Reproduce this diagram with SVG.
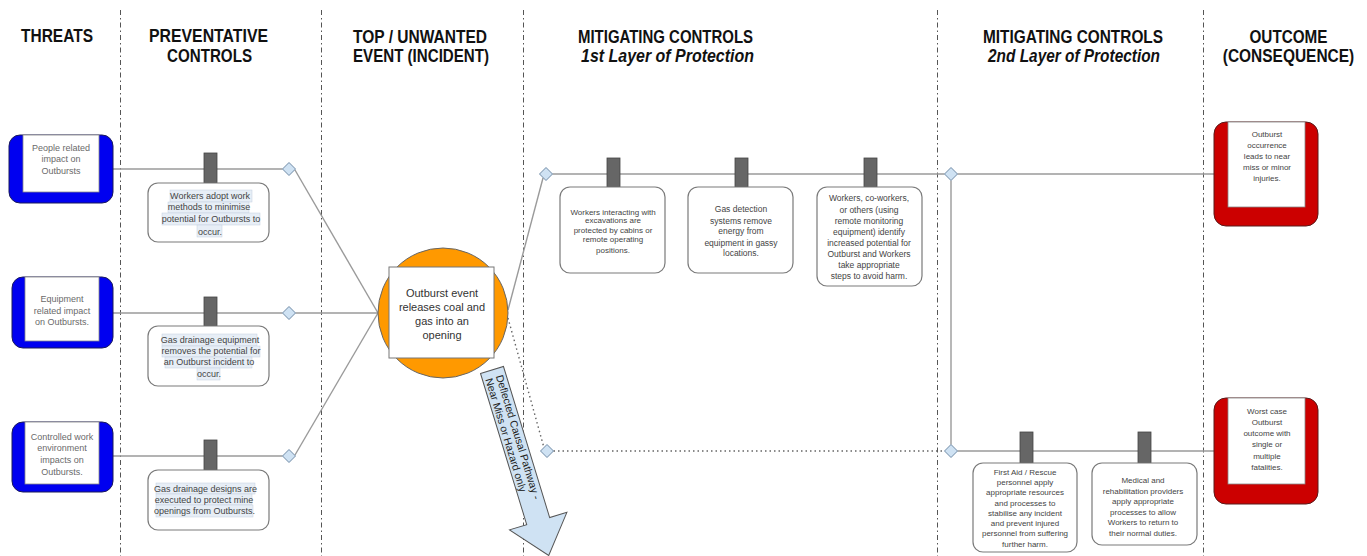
<svg xmlns="http://www.w3.org/2000/svg" width="1367" height="556" viewBox="0 0 1367 556">
<style>
.hd{font-family:"Liberation Sans",Arial,sans-serif;font-weight:bold;font-size:18px;fill:#111;text-anchor:middle}
.hi{font-style:italic}
.sep{stroke:#555;stroke-width:1;stroke-dasharray:5 3 1.5 3;fill:none}
.con{stroke:#9a9a9a;stroke-width:1.4;fill:none}
.dot{stroke:#666;stroke-width:1.4;stroke-dasharray:1.5 3;fill:none}
.dia{fill:#cfe2f3;stroke:#6f8aa6;stroke-width:1}
.blk{fill:#666;stroke:#444;stroke-width:0.8}
.box{fill:#fff;stroke:#7a7a7a;stroke-width:1.2}
.t{font-family:"Liberation Sans",Arial,sans-serif;fill:#444;text-anchor:middle}
.t9{font-size:9px}
.t8{font-size:8px}
.t85{font-size:8.5px}
.t11{font-size:11px;fill:#333}
.tg{fill:#6a6a6a}
.hl{fill:#e7eef6;stroke:#c2cfdf;stroke-width:0.5}
.blue{fill:#0000f0;stroke:#1a1a5a;stroke-width:1}
.red{fill:#cc0000;stroke:#5a1a1a;stroke-width:1}
.inner{fill:#fff;stroke:#888;stroke-width:0.8}
.at{font-family:"Liberation Sans",Arial,sans-serif;font-size:10.5px;fill:#222}
</style>

<g id="headers">
<text class="hd" x="57" y="42" textLength="72" lengthAdjust="spacingAndGlyphs">THREATS</text>
<text class="hd" x="208.5" y="42" textLength="119" lengthAdjust="spacingAndGlyphs">PREVENTATIVE</text>
<text class="hd" x="209.5" y="62" textLength="85" lengthAdjust="spacingAndGlyphs">CONTROLS</text>
<text class="hd" x="420" y="43" textLength="134" lengthAdjust="spacingAndGlyphs">TOP / UNWANTED</text>
<text class="hd" x="421" y="62" textLength="136" lengthAdjust="spacingAndGlyphs">EVENT (INCIDENT)</text>
<text class="hd" x="665.5" y="43" textLength="175" lengthAdjust="spacingAndGlyphs">MITIGATING CONTROLS</text>
<text class="hd hi" x="667.5" y="62" textLength="173" lengthAdjust="spacingAndGlyphs">1st Layer of Protection</text>
<text class="hd" x="1073" y="43" textLength="180" lengthAdjust="spacingAndGlyphs">MITIGATING CONTROLS</text>
<text class="hd hi" x="1074" y="62" textLength="172" lengthAdjust="spacingAndGlyphs">2nd Layer of Protection</text>
<text class="hd" x="1288.5" y="43" textLength="78" lengthAdjust="spacingAndGlyphs">OUTCOME</text>
<text class="hd" transform="translate(1288.5,62) scale(0.86,1)" x="0" y="0">(CONSEQUENCE)</text>
</g>

<g id="separators">
<line class="sep" x1="120.5" y1="10" x2="120.5" y2="556"/>
<line class="sep" x1="321.5" y1="10" x2="321.5" y2="556"/>
<line class="sep" x1="523.5" y1="10" x2="523.5" y2="556"/>
<line class="sep" x1="937.5" y1="10" x2="937.5" y2="556"/>
<line class="sep" x1="1203.5" y1="10" x2="1203.5" y2="556"/>
</g>

<g id="connectors">
<line class="con" x1="113" y1="169" x2="282.5" y2="169"/>
<line class="con" x1="113" y1="313" x2="282.5" y2="313"/>
<line class="con" x1="113" y1="456" x2="282.5" y2="456"/>
<line class="con" x1="295" y1="170" x2="378" y2="313"/>
<line class="con" x1="295.5" y1="313" x2="378" y2="313"/>
<line class="con" x1="295" y1="455" x2="378" y2="313"/>
<line class="con" x1="508" y1="310" x2="543" y2="178"/>
<line class="con" x1="552.5" y1="174" x2="944.5" y2="174"/>
<line class="con" x1="957.5" y1="174" x2="1214" y2="174"/>
<line class="con" x1="951" y1="180.5" x2="951" y2="444.5" stroke="#c4c4c4"/>
<line class="dot" x1="508" y1="318" x2="543.5" y2="446"/>
<line class="dot" x1="553.5" y1="451" x2="944.5" y2="451"/>
<line class="con" x1="957.5" y1="451" x2="1214" y2="451"/>
<polygon class="dia" points="289,162.5 295.5,169 289,175.5 282.5,169"/>
<polygon class="dia" points="289,306.5 295.5,313 289,319.5 282.5,313"/>
<polygon class="dia" points="289,449.5 295.5,456 289,462.5 282.5,456"/>
<polygon class="dia" points="546,167.5 552.5,174 546,180.5 539.5,174"/>
<polygon class="dia" points="951,167.5 957.5,174 951,180.5 944.5,174"/>
<polygon class="dia" points="547,444.5 553.5,451 547,457.5 540.5,451"/>
<polygon class="dia" points="951,444.5 957.5,451 951,457.5 944.5,451"/>
</g>

<g id="threat1">
<rect class="blue" x="9" y="135" width="104" height="68" rx="11"/>
<rect class="inner" x="23" y="135" width="76" height="57"/>
<text class="t t9 tg"><tspan x="61" y="151">People related</tspan><tspan x="61" y="162">impact on</tspan><tspan x="61" y="174">Outbursts</tspan></text>
</g>
<g id="threat2">
<rect class="blue" x="12" y="277" width="101" height="71" rx="11"/>
<rect class="inner" x="25" y="277" width="74" height="64"/>
<text class="t t9 tg"><tspan x="62" y="302">Equipment</tspan><tspan x="62" y="314">related impact</tspan><tspan x="62" y="325">on Outbursts.</tspan></text>
</g>
<g id="threat3">
<rect class="blue" x="12" y="422" width="101" height="70" rx="11"/>
<rect class="inner" x="25" y="422" width="74" height="62"/>
<text class="t t9 tg"><tspan x="62" y="440">Controlled work</tspan><tspan x="62" y="451">environment</tspan><tspan x="62" y="463">impacts on</tspan><tspan x="62" y="475">Outbursts.</tspan></text>
</g>

<g id="prev1">
<rect class="blk" x="204" y="153" width="13" height="30"/>
<rect class="box" x="148" y="183" width="121" height="59" rx="10"/>
<rect class="hl" x="170" y="190" width="82" height="12"/>
<rect class="hl" x="168" y="202" width="81" height="11"/>
<rect class="hl" x="162" y="213" width="98" height="12"/>
<rect class="hl" x="197" y="225" width="25" height="12"/>
<text class="t t9"><tspan x="210" y="199">Workers adopt work</tspan><tspan x="209" y="210">methods to minimise</tspan><tspan x="211" y="222">potential for Outbursts to</tspan><tspan x="210" y="235">occur.</tspan></text>
</g>
<g id="prev2">
<rect class="blk" x="204" y="297" width="13" height="29"/>
<rect class="box" x="148" y="326" width="121" height="60" rx="10"/>
<rect class="hl" x="162" y="334" width="95" height="12"/>
<rect class="hl" x="162" y="346" width="98" height="11"/>
<rect class="hl" x="165" y="357" width="87" height="11"/>
<rect class="hl" x="197" y="368" width="23" height="12"/>
<text class="t t9"><tspan x="210" y="343">Gas drainage equipment</tspan><tspan x="211" y="354">removes the potential for</tspan><tspan x="209" y="365">an Outburst incident to</tspan><tspan x="209" y="377">occur.</tspan></text>
</g>
<g id="prev3">
<rect class="blk" x="204" y="440" width="13" height="30"/>
<rect class="box" x="148" y="470" width="121" height="60" rx="10"/>
<rect class="hl" x="156" y="483" width="99" height="11"/>
<rect class="hl" x="156" y="494" width="96" height="11"/>
<rect class="hl" x="156" y="505" width="97" height="12"/>
<text class="t t9"><tspan x="205.5" y="492">Gas drainage designs are</tspan><tspan x="204" y="503">executed to protect mine</tspan><tspan x="204.5" y="514">openings from Outbursts.</tspan></text>
</g>

<g id="top-event">
<circle cx="443" cy="313" r="65" fill="#ff9900" stroke="#666" stroke-width="1"/>
<rect x="389" y="267" width="105" height="91" fill="#fff" stroke="#777" stroke-width="1"/>
<text class="t t11"><tspan x="442" y="297">Outburst event</tspan><tspan x="442" y="311">releases coal and</tspan><tspan x="442" y="325">gas into an</tspan><tspan x="442" y="339">opening</tspan></text>
</g>

<g id="deflected-arrow" transform="translate(492,370) rotate(-17)">
<polygon points="-12,0 12,0 12,158 30,158 0,194 -30,158 -12,158" fill="#cfe2f3" stroke="#555" stroke-width="1"/>
<g transform="rotate(90)">
<text class="at" x="7" y="-1.8">Deflected Causal Pathway -</text>
<text class="at" x="7" y="9.2">Near Miss or Hazard only</text>
</g>
</g>

<g id="mit1">
<rect class="blk" x="607" y="158" width="13" height="29"/>
<rect class="box" x="560" y="187" width="105" height="86" rx="10"/>
<text class="t t8"><tspan x="613" y="215">Workers interacting with</tspan><tspan x="613" y="223">excavations are</tspan><tspan x="613" y="233">protected by cabins or</tspan><tspan x="613" y="242">remote operating</tspan><tspan x="613" y="253">positions.</tspan></text>
</g>
<g id="mit2">
<rect class="blk" x="735" y="158" width="13" height="29"/>
<rect class="box" x="688" y="187" width="105" height="86" rx="10"/>
<text class="t t85"><tspan x="741" y="212">Gas detection</tspan><tspan x="741" y="224">systems remove</tspan><tspan x="741" y="234">energy from</tspan><tspan x="741" y="246">equipment in gassy</tspan><tspan x="741" y="256">locations.</tspan></text>
</g>
<g id="mit3">
<rect class="blk" x="864" y="158" width="13" height="29"/>
<rect class="box" x="817" y="187" width="105" height="99" rx="10"/>
<text class="t t85"><tspan x="869" y="201">Workers, co-workers,</tspan><tspan x="869" y="213">or others (using</tspan><tspan x="869" y="224">remote monitoring</tspan><tspan x="869" y="235">equipment) identify</tspan><tspan x="869" y="246">increased potential for</tspan><tspan x="869" y="257">Outburst and Workers</tspan><tspan x="869" y="268">take appropriate</tspan><tspan x="869" y="279">steps to avoid harm.</tspan></text>
</g>

<g id="mit4">
<rect class="blk" x="1020" y="432" width="13" height="31"/>
<rect class="box" x="973" y="463" width="104" height="89" rx="10"/>
<text class="t t8"><tspan x="1025" y="475">First Aid / Rescue</tspan><tspan x="1025" y="485">personnel apply</tspan><tspan x="1025" y="495">appropriate resources</tspan><tspan x="1025" y="506">and processes to</tspan><tspan x="1025" y="516">stabilise any incident</tspan><tspan x="1025" y="526">and prevent injured</tspan><tspan x="1025" y="536">personnel from suffering</tspan><tspan x="1025" y="547">further harm.</tspan></text>
</g>
<g id="mit5">
<rect class="blk" x="1138" y="432" width="13" height="31"/>
<rect class="box" x="1092" y="463" width="105" height="82" rx="10"/>
<text class="t t8"><tspan x="1143" y="483">Medical and</tspan><tspan x="1143" y="494">rehabilitation providers</tspan><tspan x="1143" y="504">apply appropriate</tspan><tspan x="1143" y="515">processes to allow</tspan><tspan x="1143" y="525">Workers to return to</tspan><tspan x="1143" y="536">their normal duties.</tspan></text>
</g>

<g id="outcome1">
<rect class="red" x="1214" y="122" width="104" height="104" rx="12"/>
<rect class="inner" x="1228" y="122" width="77" height="85"/>
<text class="t t8"><tspan x="1267" y="137">Outburst</tspan><tspan x="1267" y="148">occurrence</tspan><tspan x="1267" y="159">leads to near</tspan><tspan x="1267" y="170">miss or minor</tspan><tspan x="1267" y="181">injuries.</tspan></text>
</g>
<g id="outcome2">
<rect class="red" x="1214" y="398" width="104" height="106" rx="12"/>
<rect class="inner" x="1228" y="398" width="77" height="86"/>
<text class="t t8"><tspan x="1267" y="414">Worst case</tspan><tspan x="1267" y="425">Outburst</tspan><tspan x="1267" y="436">outcome with</tspan><tspan x="1267" y="447">single or</tspan><tspan x="1267" y="459">multiple</tspan><tspan x="1267" y="470">fatalities.</tspan></text>
</g>
</svg>
